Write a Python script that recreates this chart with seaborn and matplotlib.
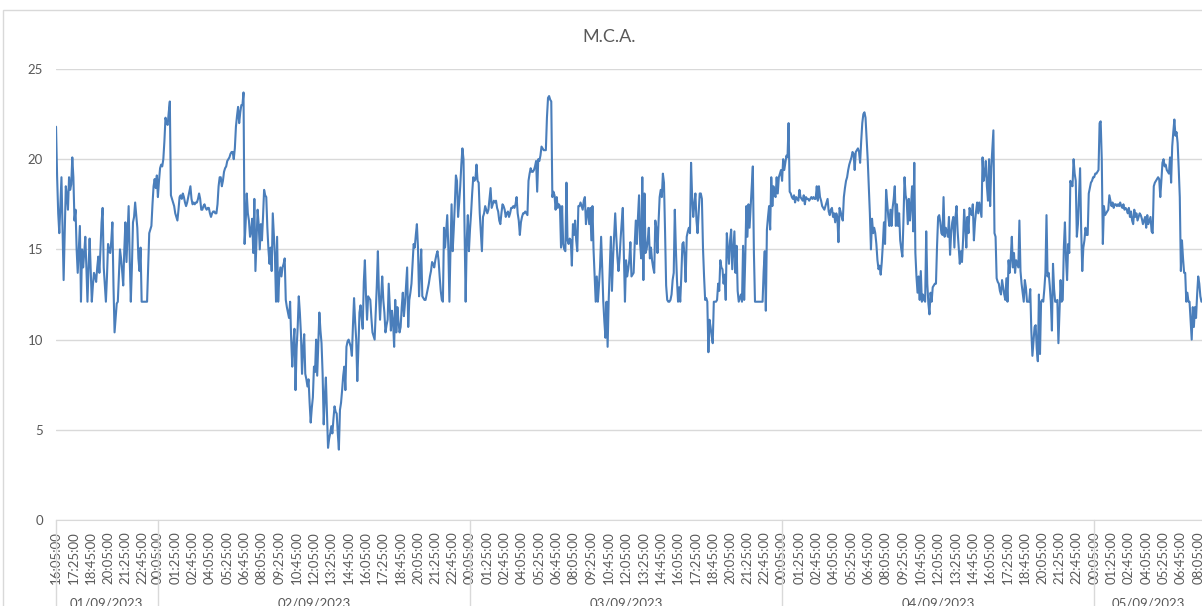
import seaborn as sns
import matplotlib.pyplot as plt
import matplotlib.transforms as mtransforms
from matplotlib.patches import Rectangle
import pandas as pd
from datetime import datetime, timedelta

# ---------------- data: M.C.A. readings every 5 minutes ---------------- #
dates = ['01/09/2023', '02/09/2023', '03/09/2023', '04/09/2023', '05/09/2023']
first_times = ['16:05:00', '00:05:00', '00:05:00', '00:05:00', '00:05:00']

day1_values = [21.8, 19.0, 17.0, 15.9, 17.5, 19.0, 16.0, 13.3, 16.0, 18.5,
               18.0, 17.2, 19.0, 18.3, 18.6, 20.1, 19.0, 16.6, 17.2, 15.0,
               13.7, 15.0, 16.3, 12.1, 15.0, 14.0, 14.8, 15.7, 14.0, 12.1,
               14.0, 15.6, 13.8, 12.1, 13.0, 13.7, 13.5, 13.2, 14.0, 14.6,
               13.7, 15.0, 16.5, 17.3, 14.0, 13.0, 12.1, 13.5, 15.3, 14.9,
               14.8, 15.5, 16.5, 13.0, 10.4, 11.2, 12.0, 12.1, 13.5, 15.0,
               14.5, 13.8, 13.0, 15.0, 16.5, 14.3, 15.8, 17.4, 14.5, 12.1,
               14.0, 16.5, 16.8, 17.6, 16.9, 16.2, 14.5, 13.8, 15.1, 12.1,
               12.1, 12.1, 12.1, 12.1, 12.1, 14.0, 15.9, 16.1, 16.3, 17.5,
               18.5, 18.9, 18.4, 19.1]

day2_values = [17.9, 18.8, 19.5, 19.7, 19.6, 20.0, 21.0, 22.3, 22.0, 21.9,
               22.6, 23.2, 18.0, 17.8, 17.6, 17.4, 17.0, 16.8, 16.6, 17.2,
               17.9, 18.0, 17.8, 18.1, 17.9, 17.6, 17.4, 17.6, 17.9, 18.2,
               18.5, 17.8, 17.5, 17.6, 17.5, 17.6, 17.6, 17.8, 18.1, 17.8,
               17.2, 17.2, 17.4, 17.5, 17.3, 17.2, 17.3, 17.3, 17.0, 16.8,
               17.0, 17.1, 17.1, 17.0, 17.0, 17.5, 18.5, 19.0, 19.0, 18.5,
               18.8, 19.3, 19.5, 19.6, 19.9, 20.0, 20.1, 20.3, 20.4, 20.4,
               20.0, 20.6, 21.8, 22.4, 22.9, 22.0, 22.6, 23.0, 23.0, 23.7,
               15.3, 16.5, 18.1, 17.0, 16.6, 15.7,
               16.0, 16.7, 14.8, 17.8, 13.8, 15.5, 17.2, 16.4, 15.0, 16.4,
               15.5, 16.8, 18.3, 18.0, 17.9, 16.2, 15.0, 14.2, 15.1, 13.8,
               17.0, 15.8, 14.6, 12.1, 15.7, 12.1, 13.5, 14.0, 13.5, 14.0,
               14.2, 14.5, 12.2, 11.8, 11.5, 11.2, 12.1, 10.0, 8.5, 9.8,
               10.6, 7.2, 9.5, 10.7, 12.4, 11.5, 10.3, 8.1, 9.5, 10.3,
               8.1, 7.8, 7.4, 7.8, 6.5, 5.4, 6.2, 6.8, 8.5, 8.2,
               10.0, 8.0, 9.8, 11.5, 10.5, 9.8, 8.1, 5.3, 6.8, 7.9,
               5.9, 4.0, 4.5, 4.8, 5.2, 4.8, 5.6, 6.3, 6.0, 5.9,
               4.8, 3.9, 6.1, 6.5, 7.2, 8.0, 8.5, 7.2, 9.6, 9.9,
               10.0, 9.8, 9.6, 9.1, 10.8, 12.3, 11.0, 10.0, 7.7, 9.5,
               11.5, 11.9, 11.2, 10.6, 13.2, 14.4, 12.5, 11.1, 12.4, 12.3,
               12.2, 11.2, 10.4, 10.2, 10.0, 11.5, 13.0, 14.9, 12.5, 11.1,
               12.4, 13.5, 12.2, 11.5, 10.4, 10.8, 11.1, 13.1, 11.8, 10.5,
               11.6, 11.0, 9.6, 12.2, 10.4, 11.8, 11.0, 10.4, 10.7, 11.8,
               12.6, 11.3, 12.0, 13.0, 14.0, 10.7, 12.2, 12.6, 13.1, 14.2,
               15.3, 15.1, 15.8, 16.4, 15.1, 12.4, 13.8, 15.0, 12.4, 12.3,
               12.2, 12.2, 12.5, 12.8, 13.1, 13.5, 13.8, 14.3, 14.2, 14.0,
               14.4, 14.7, 14.9, 14.4, 13.5,
               12.7, 12.2, 12.1, 16.2, 15.1, 16.0, 16.9, 15.1, 12.1, 15.0,
               17.5, 14.9, 16.1, 17.5, 19.1, 18.8, 16.8, 17.6, 18.5, 19.7,
               20.6, 20.0, 16.0, 12.1, 15.5, 16.9, 14.9]

day3_values = [16.1, 17.0, 18.1, 19.0, 18.8, 18.9, 19.7, 18.8, 18.7, 17.0,
               16.0, 14.9, 16.8, 17.0, 17.4, 17.2, 17.0, 17.2, 17.8, 18.4,
               17.3, 17.5, 17.7, 17.6, 17.7, 17.3, 17.1, 16.6, 16.4, 17.0,
               17.5, 17.4, 17.2, 16.8, 17.0, 17.1, 16.8, 17.0, 17.3, 17.3,
               17.4, 17.3, 17.5, 17.9, 17.0, 16.6, 15.8, 16.5, 16.8, 17.0,
               17.0, 17.1, 17.0, 16.9, 18.8, 19.2, 19.5, 19.3, 19.3, 19.4,
               19.6, 19.9, 18.2, 20.0, 19.9, 20.2, 20.7, 20.6, 20.5, 20.5,
               20.5, 22.3, 23.4, 23.5, 23.3, 23.2, 17.9, 18.2, 18.0, 17.2,
               17.9, 17.3, 17.5, 17.4, 15.1, 17.4, 15.3, 15.0, 14.9, 18.7,
               15.5, 15.3, 15.6, 15.5, 14.1, 16.4, 15.8, 16.6, 15.5, 14.9,
               17.4, 17.4, 17.6, 17.4, 17.2, 17.7, 17.9, 16.4, 17.0, 17.3,
               16.4, 17.3, 15.5, 17.4, 15.0, 13.5, 12.1, 13.5, 12.1, 13.0,
               14.0, 15.7, 14.0, 12.1, 11.0, 10.1, 12.1, 9.6, 12.2, 14.0,
               15.7, 12.7, 14.5, 15.7, 17.0, 15.7, 14.6, 13.8, 14.5, 15.6,
               16.5, 17.3, 14.6, 12.1, 14.4, 13.5, 13.9, 14.4, 15.4, 13.5,
               13.6, 13.7, 15.3, 16.6, 15.3, 16.8, 18.0, 15.3, 14.5, 19.0,
               13.3, 18.1, 14.8, 15.0, 15.5, 16.2, 14.5, 15.1, 14.4, 14.0,
               13.7, 16.6, 16.2, 14.8, 16.5, 17.9, 18.3, 17.9, 19.2, 18.7,
               16.0, 13.0, 12.2, 12.1, 12.1, 12.2, 12.5, 13.3, 13.7, 17.2,
               15.0, 13.3, 12.1, 12.9, 12.1, 13.5, 15.3, 15.4, 14.6, 13.2,
               15.7, 16.0, 16.2, 15.9, 19.8, 17.9, 16.8, 17.5, 18.1, 16.6,
               15.9, 17.0, 18.1, 18.1, 17.8, 15.1, 13.5, 12.2, 12.3, 12.1,
               9.3, 11.1, 10.7, 10.2, 9.8, 12.1, 12.1, 12.1, 12.2, 13.1,
               12.7, 14.4, 14.0, 13.9, 13.1, 13.6, 12.2, 15.9, 15.0, 14.2,
               15.5, 16.1, 13.9, 15.0, 16.0, 13.7, 15.2, 12.7, 12.1, 12.3,
               12.5, 12.1, 15.2, 12.2, 14.5, 17.4, 15.7, 17.5, 16.2, 17.4,
               18.5, 19.6, 14.8, 12.1, 12.1, 12.1, 12.1, 12.1, 12.1, 12.1,
               12.1, 13.8, 14.9, 11.6, 16.1, 16.8, 17.4, 16.1, 19.0, 17.4,
               18.5, 18.0, 17.9, 19.0, 18.1, 19.0, 19.2, 19.4]

day4_values = [18.8, 20.0, 19.4, 19.8, 20.2, 20.1, 22.0, 18.2, 18.1, 17.9,
               17.8, 18.0, 17.6, 17.9, 17.8, 17.7, 18.3, 17.9, 17.8, 17.7,
               18.0, 17.5, 17.9, 17.8, 17.8, 17.7, 17.8, 17.9, 17.8, 17.9,
               17.8, 17.8, 18.5, 17.7, 18.5, 17.9, 17.7, 17.4, 17.3, 17.2,
               17.4, 17.6, 17.8, 17.1, 16.9, 17.2, 17.3, 16.8, 17.0, 16.5,
               17.0, 16.8, 15.4, 17.3, 17.1, 16.8, 16.6, 17.9, 18.4, 18.8,
               19.0, 19.4, 19.7, 19.9, 20.1, 20.4, 20.3, 19.4, 20.4, 20.5,
               20.6, 20.4, 19.8, 21.0, 22.0, 22.5, 22.6, 22.3, 21.1, 20.0,
               18.5, 17.0, 15.0, 16.7, 15.9, 16.2, 15.9, 15.3, 14.4, 13.9,
               14.1, 13.6, 14.3, 15.3, 16.5, 15.3, 18.3, 17.6, 16.8, 16.3,
               17.2, 16.3, 17.3, 17.8, 18.5, 16.3, 17.5, 16.3, 17.0, 15.5,
               15.0, 14.6, 16.6, 19.0, 18.0, 17.7, 16.4, 17.8, 16.6, 17.5,
               18.5, 16.0, 19.8, 14.8, 13.5, 12.6, 13.5, 12.2, 13.8, 12.1,
               12.5, 12.2, 12.1, 16.0, 13.1, 12.0, 11.4, 12.6, 12.1, 12.9,
               13.0, 13.1, 13.1, 15.2, 16.8, 16.9, 16.5, 15.9, 15.8, 17.9,
               15.7, 16.2, 16.0, 15.7, 16.8, 14.7, 15.9, 16.5, 16.8, 15.1,
               16.8, 17.4, 16.0, 15.1, 14.2, 14.9, 14.3, 15.5, 17.2, 16.3,
               15.1, 16.8, 15.9, 17.3, 17.0, 16.9, 17.5, 15.5, 16.5, 17.1,
               17.6, 17.0, 17.6, 17.2, 16.8, 20.1, 18.8, 19.2, 19.9, 18.5,
               17.7, 20.0, 17.4, 19.5, 20.5, 21.6, 15.9, 15.7, 13.4, 13.2,
               13.1, 12.7, 12.5, 13.3, 12.9, 12.5, 12.2, 13.4, 12.1, 14.4,
               13.7, 14.5, 15.7, 14.0, 14.8, 13.7, 14.4, 14.2, 14.0, 16.6,
               13.8, 13.1, 12.6, 12.1, 13.3, 12.9, 12.1, 12.1, 12.1, 12.8,
               10.5, 9.1, 9.9, 10.7, 10.8, 9.5, 8.8, 12.5, 9.2, 12.1,
               12.2, 12.1, 12.8, 13.7, 16.9, 13.5, 13.7, 13.0, 12.1, 10.5,
               14.2, 12.8, 12.1, 12.1, 12.2, 9.8, 11.5, 13.3, 12.1, 12.2,
               15.1, 16.5, 14.5, 13.3, 15.3, 14.8, 18.8, 18.6, 18.5, 20.0,
               19.2, 18.8, 15.7, 16.4, 18.0, 19.5, 16.1, 13.8, 15.1, 15.5,
               16.2, 15.8, 15.8, 18.1, 18.4, 18.7, 18.8, 19.0]

day5_values = [19.0, 19.2, 19.2, 19.3, 19.4, 22.0, 22.1, 20.0, 15.3, 17.4,
               16.9, 17.0, 17.1, 17.2, 18.0, 17.7, 17.4, 17.6, 17.3, 17.5,
               17.5, 17.4, 17.5, 17.4, 17.6, 17.4, 17.3, 17.5, 17.2, 17.3,
               17.2, 17.0, 17.3, 16.8, 17.1, 16.6, 16.4, 17.2, 16.8, 17.0,
               16.6, 16.8, 17.0, 16.9, 16.7, 16.4, 16.6, 16.8, 16.2, 16.9,
               16.4, 16.6, 16.8, 16.0, 15.9, 18.5, 18.7, 18.8, 18.9, 19.0,
               18.9, 17.9, 18.8, 19.8, 20.0, 19.6, 19.7, 19.4, 19.3, 19.2,
               20.1, 18.7, 20.7, 21.5, 22.2, 21.3, 21.5, 20.9, 19.5, 17.9,
               13.8, 15.5, 14.5, 13.7, 13.7, 12.1, 12.6, 12.1, 12.1, 11.0,
               10.0, 11.8, 10.7, 11.8, 11.2, 12.5, 13.5, 13.1, 12.4, 12.1]

y_ticks = [0, 5, 10, 15, 20, 25]

all_days = [day1_values, day2_values, day3_values, day4_values, day5_values]
for d in all_days[1:4]:
    if len(d) != 288:
        raise ValueError([len(x) for x in all_days])

# ------------- build table ------------- #
rows = []
pos = 0
for date, t0, vals in zip(dates, first_times, all_days):
    start = datetime.strptime(t0, '%H:%M:%S')
    for k, v in enumerate(vals):
        rows.append({'date': date,
                     'time': (start + timedelta(minutes=5 * k)).strftime('%H:%M:%S'),
                     'k': k, 'pos': pos, 'mca': v})
        pos += 1
df = pd.DataFrame(rows)

# ------------- plot ------------- #
sns.set_style('white')
plt.rcParams['font.family'] = ['Lato', 'DejaVu Sans']
grey_txt = '#595959'
grid_c = '#d9d9d9'

fig = plt.figure(figsize=(12.02, 6.06), dpi=100)
ax = fig.add_axes([55.5 / 1202, 86 / 606, (1202 - 55.5) / 1202, 451 / 606])

sns.lineplot(data=df, x='pos', y='mca', color='#4a7ebb', linewidth=1.5,
             estimator=None, ax=ax)

ax.set_xlim(-0.5, len(df) - 0.5)
ax.set_ylim(0, 25)
ax.set_yticks(y_ticks)
ax.yaxis.grid(True, color=grid_c, linewidth=1)
ax.xaxis.grid(False)
for s in ['top', 'right', 'left']:
    ax.spines[s].set_visible(False)
ax.spines['bottom'].set_color(grid_c)
ax.set_xlabel('')
ax.set_ylabel('')

lab = df[df['k'] % 16 == 0]
ax.set_xticks(lab['pos'])
ax.set_xticklabels(lab['time'], rotation=90, va='top', ha='center')
ax.tick_params(axis='x', length=0, pad=8, labelsize=9.5, labelcolor=grey_txt)
ax.tick_params(axis='y', length=0, pad=9, labelsize=9.5, labelcolor=grey_txt)

# date group labels and separators under the axis
trans = mtransforms.blended_transform_factory(ax.transData, fig.transFigure)
starts = df.groupby('date', sort=False)['pos'].min().tolist()
edges = [-0.5] + starts[1:] + [len(df) - 0.5]
for x in edges[:-1]:
    ax.plot([x, x], [0, 86 / 606], transform=trans, color=grid_c,
            linewidth=1, clip_on=False)
for i, date in enumerate(dates):
    ax.text((edges[i] + edges[i + 1]) / 2, 9 / 606, date, transform=trans,
            ha='center', va='top', fontsize=9.5, color=grey_txt)

fig.text(0.507, 1 - 37 / 606, 'M.C.A.', ha='center', va='center',
         fontsize=13, color=grey_txt)

# chart frame
fig.add_artist(Rectangle((3 / 1202, -0.1), 1.2, 1.1 - 10 / 606,
                         transform=fig.transFigure, fill=False,
                         edgecolor=grid_c, linewidth=1))

plt.savefig('out.png', dpi=100)
